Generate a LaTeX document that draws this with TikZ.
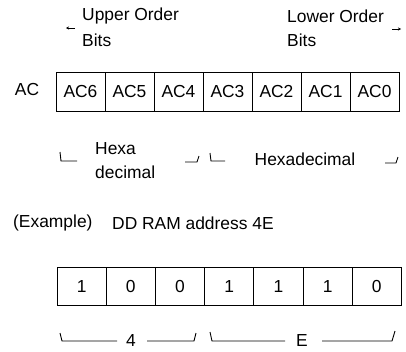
\documentclass[tikz,border=0pt]{standalone}
\usepackage{fontspec}
\setmainfont{Liberation Sans}
\usetikzlibrary{arrows.meta}
\begin{document}
\begin{tikzpicture}[x=1pt,y=-1pt,
  lbl/.style={font=\fontsize{17.4}{19}\selectfont, inner sep=0pt},
  cell/.style={draw, line width=0.9pt, inner sep=0pt, minimum width=49pt,
    font=\fontsize{17.4}{19}\selectfont},
  brk/.style={line width=0.9pt},
  tip/.style={line width=0.7pt, -{Stealth[length=3pt,width=3pt]}}]
\useasboundingbox (0,0) rectangle (406,351);

% bit order headings
\node[lbl, anchor=west] (upper) at (82,16) {Upper Order};
\node[lbl, anchor=west] (ubits) at (82,40) {Bits};
\node[lbl, anchor=west] (lower) at (287,16) {Lower Order};
\node[lbl, anchor=west] (lbits) at (287,40) {Bits};
\coordinate (la0) at (75,28);  \coordinate (la1) at (66,28);
\coordinate (ra0) at (392,29); \coordinate (ra1) at (401,29);
\draw[tip] (la0) -- (la1);
\draw[tip] (ra0) -- (ra1);

% AC register
\node[lbl] (ac) at (27,90) {AC};
\foreach \i/\t in {0/AC6,1/AC5,2/AC4,3/AC3,4/AC2,5/AC1,6/AC0}
  \node[cell, minimum height=39pt] (c\i) at (80.5+49*\i,91.5) {\t};

% nibble groups
\draw[brk] (60,152) -- (61,161) -- (77,161);
\draw[brk] (185,162) -- (197,162) -- (199,156);
\draw[brk] (210,153) -- (211,161) -- (225,161);
\draw[brk] (385,163) -- (396,163) -- (398,157);
\node[lbl, anchor=west] (hexa) at (95,149) {Hexa};
\node[lbl, anchor=west] (deci) at (95,172) {decimal};
\node[lbl] (hexd) at (305,159) {Hexadecimal};

% example
\node[lbl, anchor=west] (ex) at (13,223) {(Example)};
\node[lbl, anchor=west] (exaddr) at (112,223) {DD RAM address 4E};
\foreach \i/\t in {0/1,1/0,2/0,3/1,4/1,5/1,6/0}
  \node[cell, minimum height=38pt, minimum width=49.2pt] (b\i) at (81.6+49.2*\i,286.5) {\t};

% digit groups
\node[lbl] (four) at (131,341) {4};
\node[lbl] (ee) at (302,341) {E};
\draw[brk] (60,333) -- (62,341) -- (117,341);
\draw[brk] (147,341) -- (194,341) -- (196,333);
\draw[brk] (210,332) -- (212,341) -- (285,341);
\draw[brk] (322,341) -- (392,341) -- (395,331);
\end{tikzpicture}
\end{document}
